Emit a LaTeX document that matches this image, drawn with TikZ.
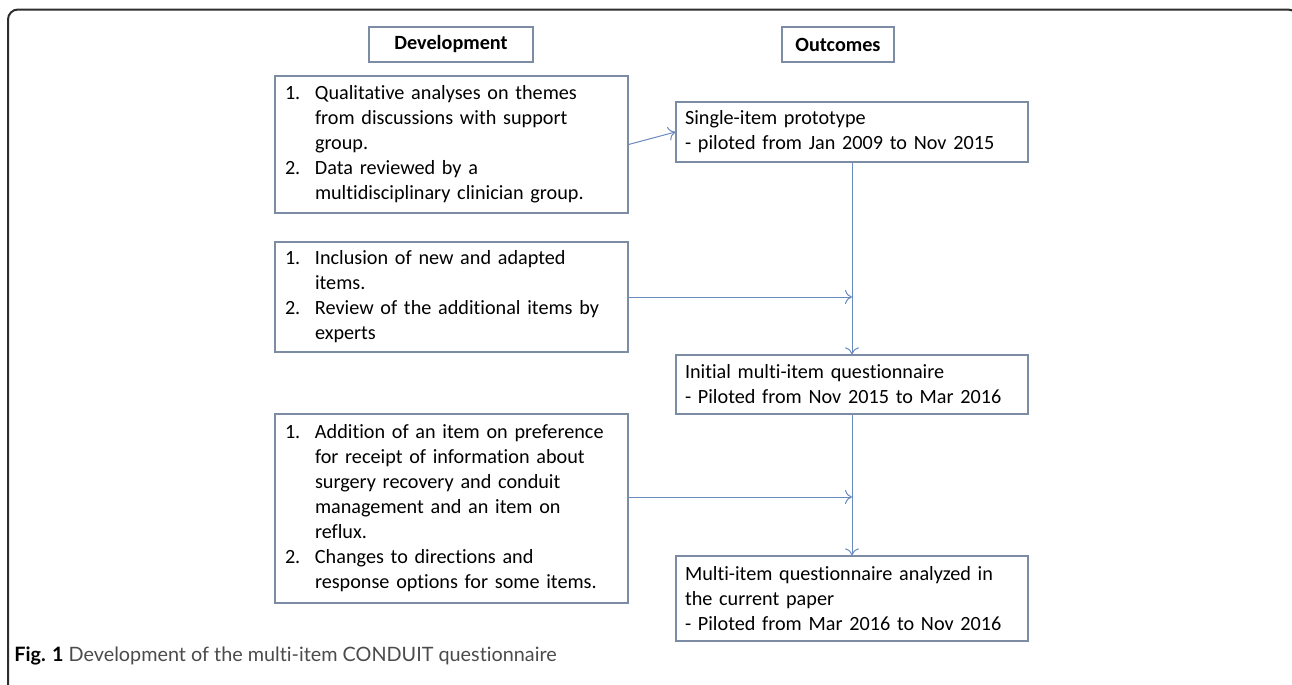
\documentclass[tikz,border=0pt]{standalone}
\usepackage{fontspec}
\setmainfont{Carlito}[Ligatures=NoCommon]
\newfontfamily\capfont{Lato}[Ligatures=NoCommon]
\usepackage{xcolor}
\usetikzlibrary{arrows.meta}
\definecolor{boxline}{RGB}{125,140,165}
\definecolor{arrowblue}{RGB}{105,138,190}
\definecolor{framegray}{RGB}{45,45,45}
\definecolor{captiongray}{RGB}{75,75,75}

\tikzset{
  headbox/.style={draw=boxline, line width=0.6pt, font=\fontsize{10.1}{12.5}\selectfont\bfseries, minimum height=17.5pt, inner sep=0pt},
  devbox/.style={draw=boxline, line width=0.6pt, font=\fontsize{10.1}{12.5}\selectfont, text width=166.5pt, inner xsep=5pt, inner ysep=0pt, align=left},
  outbox/.style={draw=boxline, line width=0.6pt, font=\fontsize{10.1}{12.5}\selectfont, text width=167pt, inner xsep=4.5pt, inner ysep=0pt, align=left},
  flow/.style={draw=arrowblue, line width=0.5pt, -{To[length=3.5pt,width=7pt]}}
}

\begin{document}
\begin{tikzpicture}[x=0.5pt, y=-0.5pt]
            \path[use as bounding box] (0,0) rectangle (1292,685);

            % Frame
            \begin{scope}
                \clip (0,0) rectangle (1292,685);
                \draw[framegray, line width=1pt, rounded corners=5pt] (8,720) -- (8,9.5) -- (1298,9.5) -- (1298,720);
            \end{scope}

            % Headings
            \node[headbox, minimum width=82pt] (devhead) at (451,44.5) {Development};
            \node[headbox, minimum width=56pt] (outhead) at (838,44.5) {Outcomes};

            % Development steps
            \node[devbox, minimum height=68.5pt] (devA) at (451.5,144.5) {\begin{tabular}{@{}p{15pt}@{}l@{}}
                1. & Qualitative analyses on themes\\
                   & from discussions with support\\
                   & group.\\
                2. & Data reviewed by a\\
                   & multidisciplinary clinician group.
            \end{tabular}};
            \node[devbox, minimum height=55pt] (devB) at (451.5,297) {\begin{tabular}{@{}p{15pt}@{}l@{}}
                1. & Inclusion of new and adapted\\
                   & items.\\
                2. & Review of the additional items by\\
                   & experts
            \end{tabular}};
            \node[devbox, minimum height=94.5pt] (devC) at (451.5,508.5) {\begin{tabular}{@{}p{15pt}@{}l@{}}
                1. & Addition of an item on preference\\
                   & for receipt of information about\\
                   & surgery recovery and conduit\\
                   & management and an item on\\
                   & reflux.\\
                2. & Changes to directions and\\
                   & response options for some items.
            \end{tabular}};

            % Outcomes
            \node[outbox, minimum height=30pt] (outA) at (852,132) {Single-item prototype\\- piloted from Jan 2009 to Nov 2015};
            \node[outbox, minimum height=29.5pt] (outB) at (852,384.5) {Initial multi-item questionnaire\\- Piloted from Nov 2015 to Mar 2016};
            \node[outbox, minimum height=42.5pt] (outC) at (852,598.5) {Multi-item questionnaire analyzed in\\the current paper\\- Piloted from Mar 2016 to Nov 2016};

            % Connectors
            \draw[flow] (devA.east) -- (outA.west);
            \draw[flow] (outA.south) -- (outB.north);
            \draw[flow] (outB.south) -- (outC.north);
            \draw[flow] (devB.east) -- (devB.east -| outA.south);
            \coordinate (joinC) at ([yshift=5.75pt]devC.east);
            \draw[flow] (joinC) -- (joinC -| outC.north);

            % Caption
            \node[anchor=west, inner sep=0pt, font=\capfont\fontsize{9.9}{11}\selectfont] (caption) at (14,656) {\textbf{Fig. 1} \textcolor{captiongray}{Development of the multi-item CONDUIT questionnaire}};
        \end{tikzpicture}
\end{document}
